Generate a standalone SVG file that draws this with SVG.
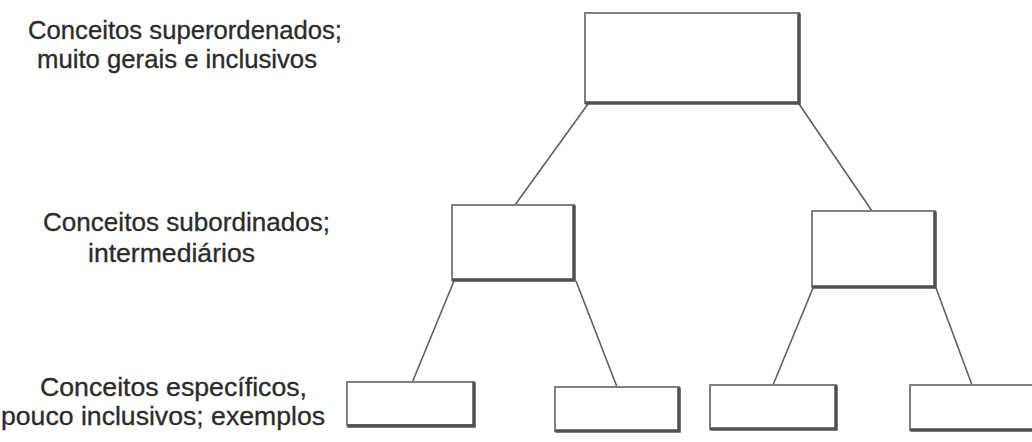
<svg xmlns="http://www.w3.org/2000/svg" width="1032" height="442" viewBox="0 0 1032 442">
  <defs>
    <style>
      .lbl { font-family: "Liberation Sans", Arial, sans-serif; font-size: 25px; fill: #2b2b2b; stroke: #2b2b2b; stroke-width: 0.3; }
      .box { fill: #ffffff; stroke: #808080; stroke-width: 2; }
      .shade { fill: none; stroke: #505050; stroke-width: 3.5; stroke-linecap: square; }
      .edge { stroke: #5c5f6e; stroke-width: 1.6; fill: none; }
    </style>
  </defs>
  <rect width="1032" height="442" fill="#ffffff"/>

  <!-- level labels -->
  <g id="labels">
    <text class="lbl" x="28" y="39" textLength="314" lengthAdjust="spacingAndGlyphs">Conceitos superordenados;</text>
    <text class="lbl" x="37" y="68" textLength="280" lengthAdjust="spacingAndGlyphs">muito gerais e inclusivos</text>
    <text class="lbl" x="43" y="231" textLength="287" lengthAdjust="spacingAndGlyphs">Conceitos subordinados;</text>
    <text class="lbl" x="88" y="262" textLength="167" lengthAdjust="spacingAndGlyphs">intermediários</text>
    <text class="lbl" x="40" y="396" textLength="267" lengthAdjust="spacingAndGlyphs">Conceitos específicos,</text>
    <text class="lbl" x="1" y="425" textLength="324" lengthAdjust="spacingAndGlyphs">pouco inclusivos; exemplos</text>
  </g>

  <!-- connectors -->
  <g id="connectors">
    <line class="edge" x1="588" y1="104" x2="515" y2="205"/>
    <line class="edge" x1="799" y1="104" x2="872" y2="211"/>
    <line class="edge" x1="454" y1="281" x2="412" y2="383"/>
    <line class="edge" x1="576" y1="281" x2="617" y2="387"/>
    <line class="edge" x1="813" y1="288" x2="773" y2="385"/>
    <line class="edge" x1="936" y1="288" x2="972" y2="385"/>
  </g>

  <!-- top concept -->
  <g id="node-top">
    <rect class="box" x="585" y="13" width="214" height="90"/>
    <polyline class="shade" points="587,103 799,103 799,15"/>
  </g>

  <!-- intermediate concepts -->
  <g id="node-mid-left">
    <rect class="box" x="452" y="205" width="122" height="75"/>
    <polyline class="shade" points="454,280 574,280 574,207"/>
  </g>
  <g id="node-mid-right">
    <rect class="box" x="812" y="211" width="123" height="76"/>
    <polyline class="shade" points="814,287 935,287 935,213"/>
  </g>

  <!-- specific concepts -->
  <g id="node-leaf-1">
    <rect class="box" x="347" y="382" width="127" height="43"/>
    <polyline class="shade" points="349,426 474,426 474,384"/>
  </g>
  <g id="node-leaf-2">
    <rect class="box" x="555" y="387" width="124" height="44"/>
    <polyline class="shade" points="557,431 679,431 679,389"/>
  </g>
  <g id="node-leaf-3">
    <rect class="box" x="710" y="385" width="126" height="44"/>
    <polyline class="shade" points="712,429 836,429 836,387"/>
  </g>
  <g id="node-leaf-4">
    <rect class="box" x="910" y="385" width="126" height="45"/>
    <polyline class="shade" points="912,430 1036,430"/>
  </g>
</svg>
